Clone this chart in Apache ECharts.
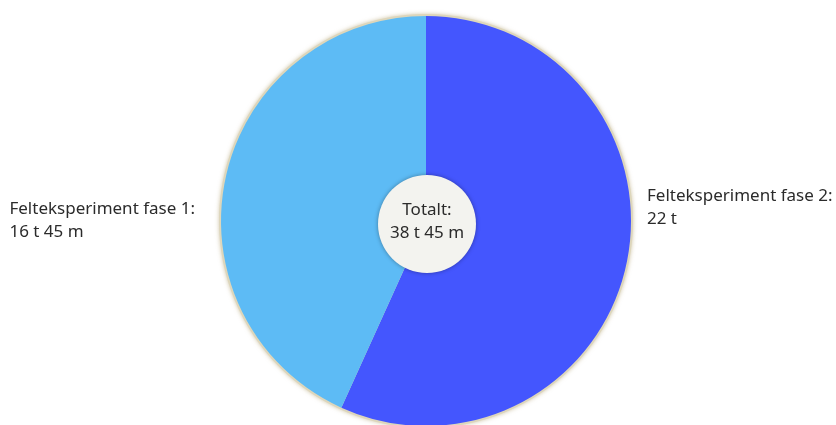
<!DOCTYPE html>
<html>
<head>
<meta charset="utf-8">
<script src="https://cdn.jsdelivr.net/npm/echarts@6/dist/echarts.min.js"></script>
<style>
  html, body { margin: 0; padding: 0; background: #ffffff; }
  #chart { width: 836px; height: 425px; }
</style>
</head>
<body>
<div id="chart"></div>
<script>
// Time spent per field experiment phase, in minutes
const phases = ['Felteksperiment fase 2', 'Felteksperiment fase 1'];
const minutesSpent = [22 * 60, 16 * 60 + 45];
const phaseColors = ['#4456fe', '#5dbbf5'];
const totalLabel = 'Totalt';

const FONT = '"Noto Sans", Lato, sans-serif';
const FONT_SIZE = 17;
const TEXT_COLOR = '#2b2b2b';

// "16 t 45 m" style duration text
function formatDuration(mins) {
  const h = Math.floor(mins / 60);
  const m = mins % 60;
  return m ? h + ' t ' + m + ' m' : h + ' t';
}

function sliceText(name, mins) {
  return name + ':\n' + formatDuration(mins);
}

// widest line of a multi-line label, in pixels
const measureCtx = document.createElement('canvas').getContext('2d');
measureCtx.font = FONT_SIZE + 'px ' + FONT;
function textWidth(str) {
  return Math.max.apply(null, str.split('\n').map(s => measureCtx.measureText(s).width));
}

const totalMinutes = minutesSpent.reduce((a, b) => a + b, 0);

const CX = 426, CY = 221, R = 205;

const chart = echarts.init(document.getElementById('chart'), null, { renderer: 'canvas' });

chart.setOption({
  animation: false,
  backgroundColor: '#ffffff',
  series: [
    {
      // soft tan rim behind the pie
      type: 'pie',
      silent: true,
      center: [CX, CY],
      radius: [0, R + 2],
      label: { show: false },
      labelLine: { show: false },
      data: [{ value: 1, itemStyle: {
        color: '#ddd6bb',
        shadowBlur: 4,
        shadowColor: 'rgba(170,150,95,0.55)'
      } }]
    },
    {
      type: 'pie',
      center: [CX, CY],
      radius: [0, R],
      startAngle: 90,
      clockwise: true,
      data: phases.map((name, i) => ({
        name: name,
        value: minutesSpent[i],
        itemStyle: { color: phaseColors[i] }
      })),
      label: {
        show: true,
        position: 'outside',
        formatter: p => sliceText(p.name, p.value),
        fontFamily: FONT,
        fontSize: FONT_SIZE,
        lineHeight: 23,
        color: TEXT_COLOR,
        align: 'left',
        overflow: 'none',
        width: 300
      },
      labelLine: { show: false },
      labelLayout: function (params) {
        const r = params.rect;
        if (params.dataIndex === 0) {
          // right-hand slice: label just past the rim, a little above centre
          return { x: r.x + r.width + 16, y: CY - 13, align: 'left', verticalAlign: 'middle' };
        }
        // left-hand slice: label ends just before the rim
        const w = textWidth(params.text);
        return { x: r.x - 26 - w, y: CY, align: 'left', verticalAlign: 'middle' };
      }
    },
    {
      // total in the middle
      type: 'pie',
      center: [CX + 1, CY + 3],
      radius: [0, 49],
      silent: true,
      data: [{ name: totalLabel, value: totalMinutes, itemStyle: {
        color: '#f3f3ef',
        shadowBlur: 4,
        shadowColor: 'rgba(0,0,0,0.35)'
      } }],
      label: {
        show: true,
        position: 'center',
        offset: [0, -2],
        formatter: p => sliceText(p.name, p.value),
        fontFamily: FONT,
        fontSize: FONT_SIZE,
        lineHeight: 23,
        color: TEXT_COLOR
      },
      labelLine: { show: false }
    }
  ]
});
</script>
</body>
</html>
